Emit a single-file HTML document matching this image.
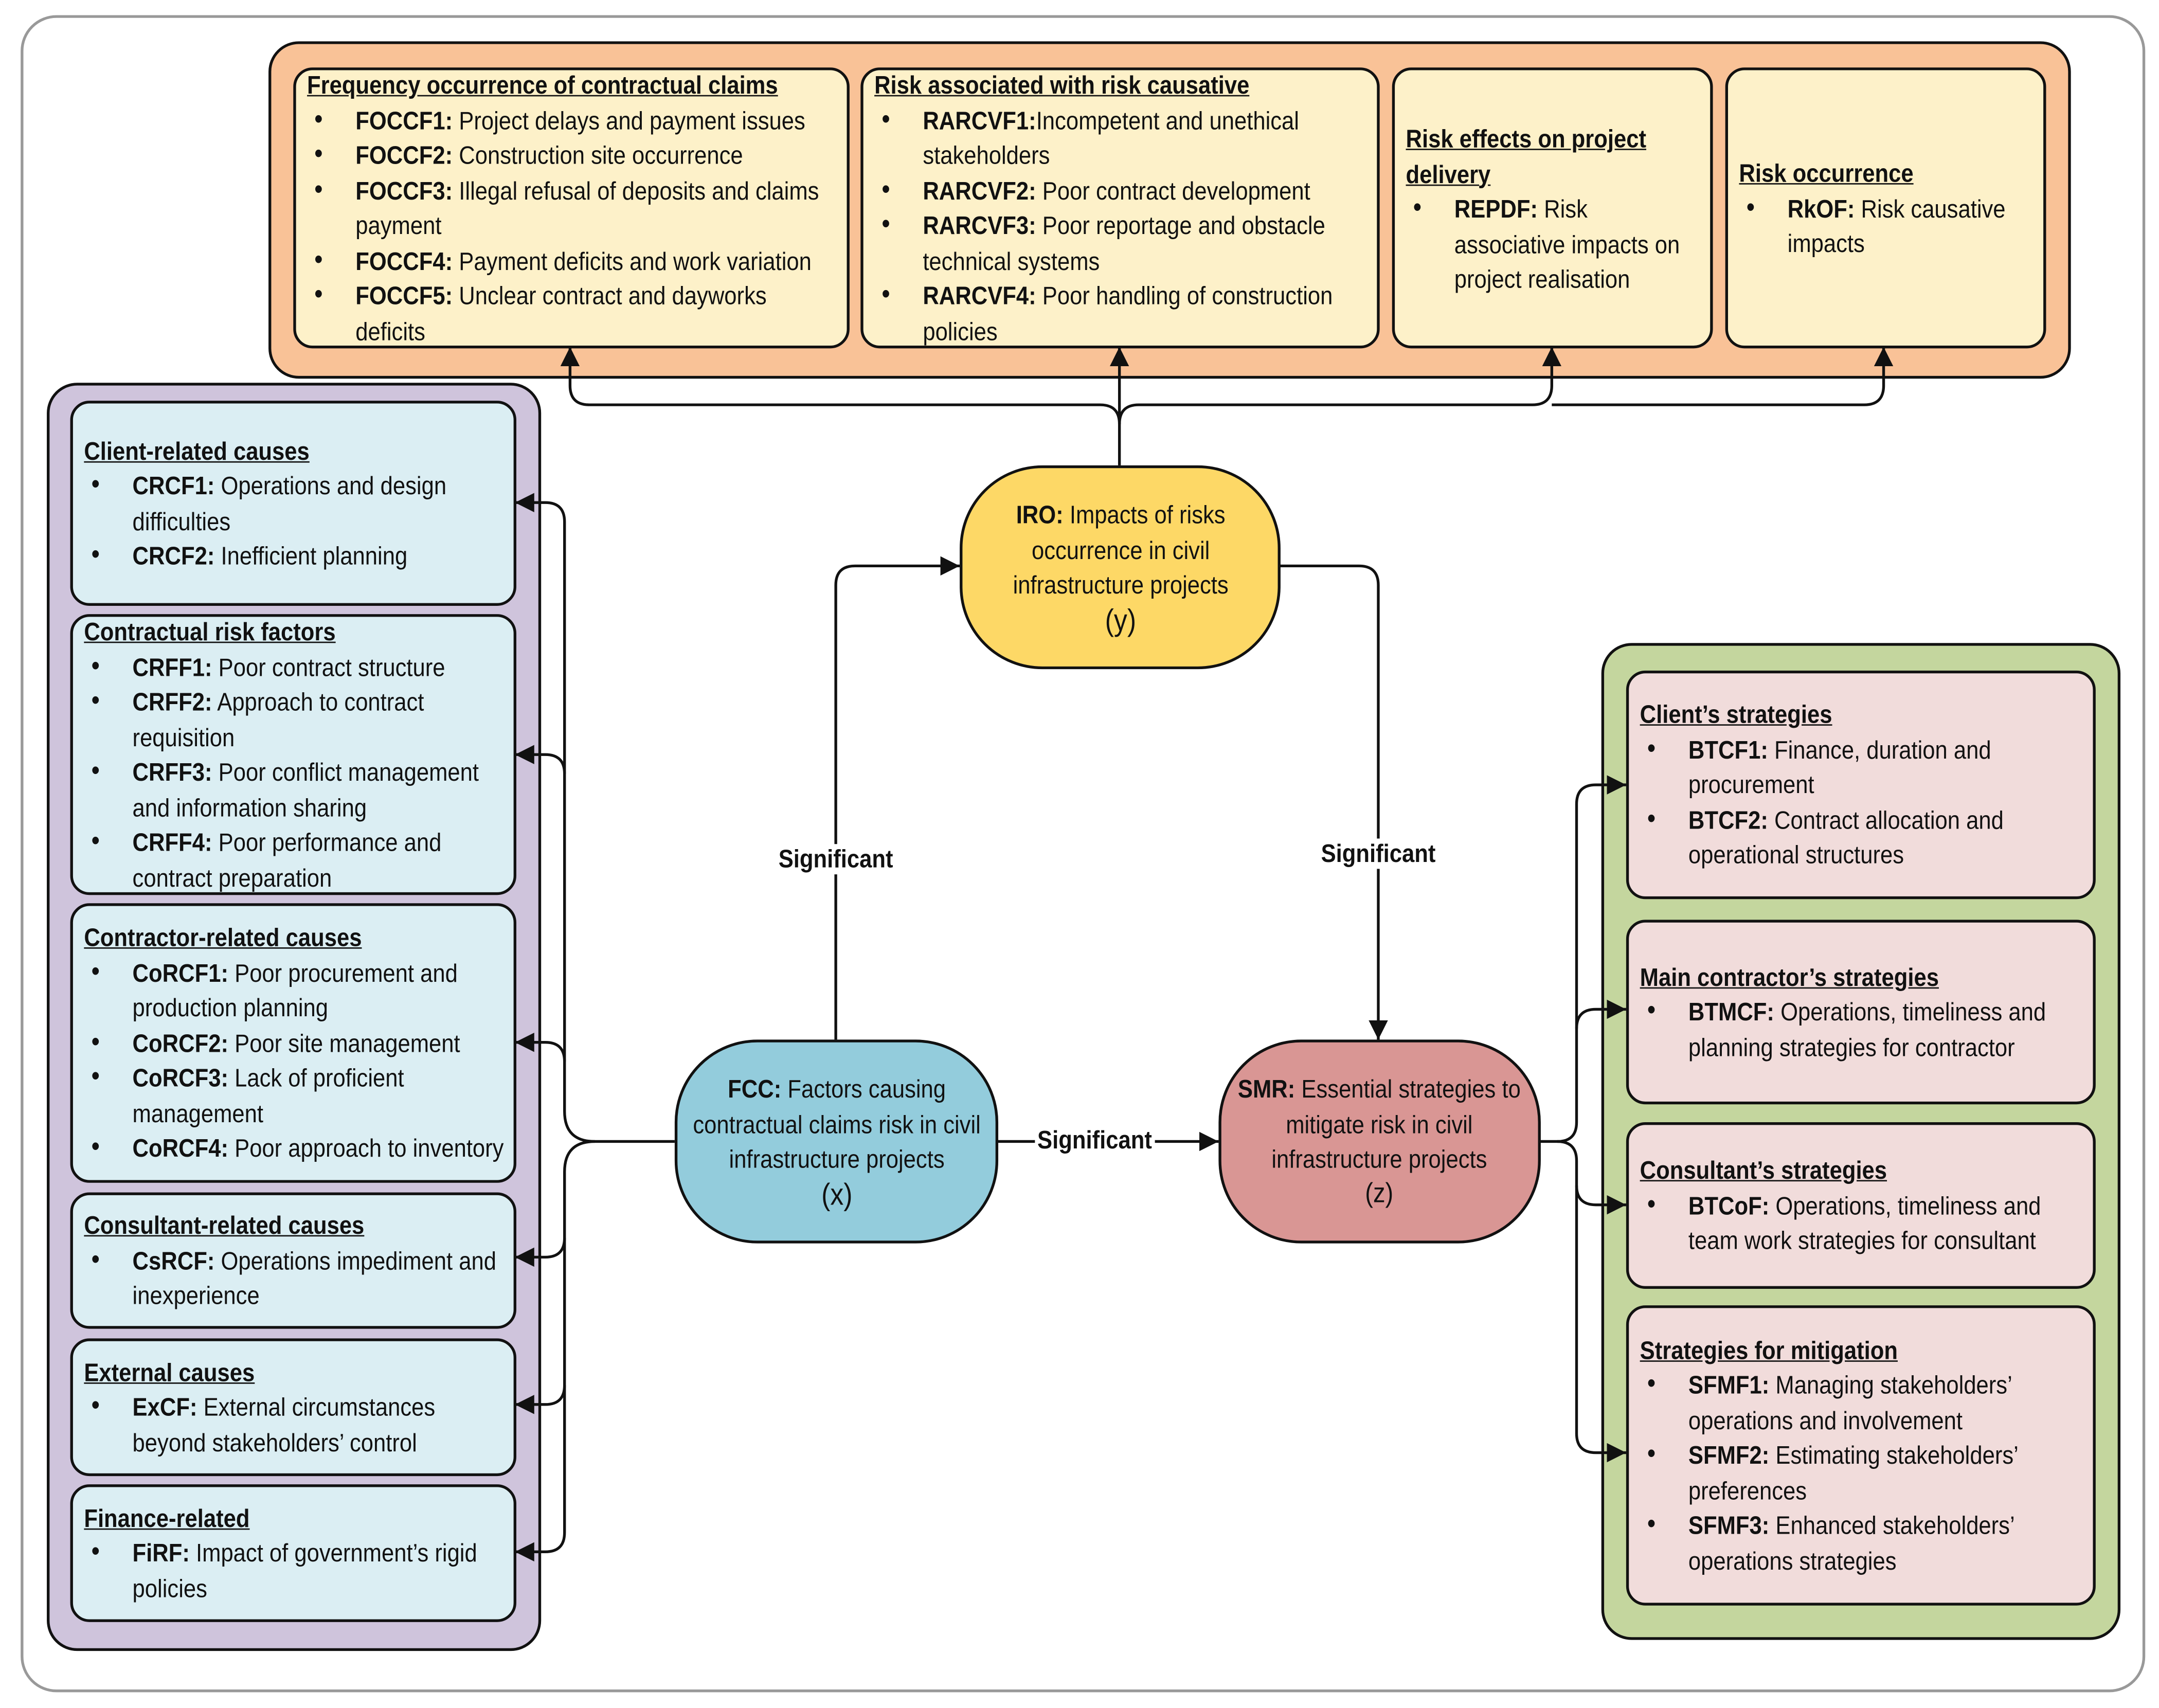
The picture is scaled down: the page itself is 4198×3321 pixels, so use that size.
<!DOCTYPE html>
<html><head><meta charset="utf-8"><style>
html,body{margin:0;padding:0;background:#fff;}
#wrap{width:4198px;height:3321px;overflow:hidden;position:relative;background:#fff;}
#s{position:absolute;left:0;top:0;width:1568px;height:1240px;transform:scale(2.6773);transform-origin:0 0;font-family:"Liberation Sans Narrow","Liberation Sans",sans-serif;font-size:18.5px;color:#111;}
.a{position:absolute;box-sizing:border-box;}
.box{position:absolute;box-sizing:border-box;border:2.2px solid #111;border-radius:14px;display:flex;flex-direction:column;justify-content:center;padding:0 6px 0 8px;line-height:25.5px;white-space:nowrap;}
.box>div{transform:scaleX(.88);transform-origin:0 0;}
.h{font-weight:bold;text-decoration:underline;}
.li{position:relative;padding-left:40px;}
.li:before{content:"•";position:absolute;left:6px;top:0;font-size:20px;}
.node{position:absolute;box-sizing:border-box;border:2.2px solid #111;border-radius:60px;display:flex;flex-direction:column;justify-content:center;align-items:center;text-align:center;line-height:25.5px;white-space:nowrap;}
.node>div{transform:scaleX(.88);}
.lab{position:absolute;font-weight:bold;background:#fff;white-space:nowrap;transform:translate(-50%,-50%) scaleX(.88);line-height:22px;padding:0 2px;}
</style></head><body><div id="wrap"><div id="s">
<div class="a" style="left:15px;top:11px;width:1543px;height:1218px;border:2px solid #999;border-radius:26px;"></div>
<div class="a" style="left:195px;top:30px;width:1309px;height:245px;background:#f9c297;border:2.2px solid #111;border-radius:22px;"></div>
<div class="a" style="left:34px;top:278px;width:359px;height:921px;background:#cfc4dc;border:2.2px solid #111;border-radius:22px;"></div>
<div class="a" style="left:1163px;top:467px;width:377px;height:724px;background:#c4d69e;border:2.2px solid #111;border-radius:22px;"></div>

<svg class="a" style="left:0;top:0" width="1568" height="1240" viewBox="0 0 1568 1240">
<defs><marker id="m2" viewBox="0 0 10 10" refX="10" refY="5" markerWidth="14" markerHeight="14" orient="auto" markerUnits="userSpaceOnUse"><path d="M0,0L10,5L0,10z" fill="#111"/></marker></defs>
<g fill="none" stroke="#111" stroke-width="2">
<path d="M607,755V425q0,-14 14,-14H697" marker-end="url(#m2)"/>
<path d="M929,411H987q14,0 14,14V755" marker-end="url(#m2)"/>
<path d="M724,829H885" marker-end="url(#m2)"/>
<path d="M813,338V308q0,-14 -14,-14H428q-14,0 -14,-14V252" marker-end="url(#m2)"/>
<path d="M813,308V252" marker-end="url(#m2)"/>
<path d="M813,308q0,-14 14,-14H1113q14,0 14,-14V252" marker-end="url(#m2)"/>
<path d="M1127,294H1354q14,0 14,-14V252" marker-end="url(#m2)"/>
<path d="M490,829H432q-22,0 -22,-22V379q0,-14 -14,-14H374" marker-end="url(#m2)"/>
<path d="M432,829q-22,0 -22,22V1113q0,14 -14,14H374" marker-end="url(#m2)"/>
<path d="M410,562q0,-14 -14,-14H374" marker-end="url(#m2)"/>
<path d="M410,771q0,-14 -14,-14H374" marker-end="url(#m2)"/>
<path d="M410,899q0,14 -14,14H374" marker-end="url(#m2)"/>
<path d="M410,1006q0,14 -14,14H374" marker-end="url(#m2)"/>
<path d="M1118,829H1131q14,0 14,-14V584q0,-14 14,-14H1181" marker-end="url(#m2)"/>
<path d="M1131,829q14,0 14,14V1041q0,14 14,14H1181" marker-end="url(#m2)"/>
<path d="M1145,747q0,-14 14,-14H1181" marker-end="url(#m2)"/>
<path d="M1145,861q0,14 14,14H1181" marker-end="url(#m2)"/>
</g></svg>

<div class="box" style="left:213px;top:49px;width:404px;height:204px;background:#fdf1c9;">
<div class="h">Frequency occurrence of contractual claims</div>
<div class="li"><b>FOCCF1:</b> Project delays and payment issues</div>
<div class="li"><b>FOCCF2:</b> Construction site occurrence</div>
<div class="li"><b>FOCCF3:</b> Illegal refusal of deposits and claims<br>payment</div>
<div class="li"><b>FOCCF4:</b> Payment deficits and work variation</div>
<div class="li"><b>FOCCF5:</b> Unclear contract and dayworks<br>deficits</div>
</div>
<div class="box" style="left:625px;top:49px;width:377px;height:204px;background:#fdf1c9;">
<div class="h">Risk associated with risk causative</div>
<div class="li"><b>RARCVF1:</b>Incompetent and unethical<br>stakeholders</div>
<div class="li"><b>RARCVF2:</b> Poor contract development</div>
<div class="li"><b>RARCVF3:</b> Poor reportage and obstacle<br>technical systems</div>
<div class="li"><b>RARCVF4:</b> Poor handling of construction<br>policies</div>
</div>
<div class="box" style="left:1011px;top:49px;width:233px;height:204px;background:#fdf1c9;justify-content:flex-start;padding-top:37px;">
<div class="h">Risk effects on project<br>delivery</div>
<div class="li"><b>REPDF:</b> Risk<br>associative impacts on<br>project realisation</div>
</div>
<div class="box" style="left:1253px;top:49px;width:233px;height:204px;background:#fdf1c9;justify-content:flex-start;padding-top:62px;">
<div class="h">Risk occurrence</div>
<div class="li"><b>RkOF:</b> Risk causative<br>impacts</div>
</div>

<div class="box" style="left:51px;top:291px;width:324px;height:149px;background:#dbeef3;">
<div class="h">Client-related causes</div>
<div class="li"><b>CRCF1:</b> Operations and design<br>difficulties</div>
<div class="li"><b>CRCF2:</b> Inefficient planning</div>
</div>
<div class="box" style="left:51px;top:446px;width:324px;height:204px;background:#dbeef3;">
<div class="h">Contractual risk factors</div>
<div class="li"><b>CRFF1:</b> Poor contract structure</div>
<div class="li"><b>CRFF2:</b> Approach to contract<br>requisition</div>
<div class="li"><b>CRFF3:</b> Poor conflict management<br>and information sharing</div>
<div class="li"><b>CRFF4:</b> Poor performance and<br>contract preparation</div>
</div>
<div class="box" style="left:51px;top:656px;width:324px;height:203px;background:#dbeef3;">
<div class="h">Contractor-related causes</div>
<div class="li"><b>CoRCF1:</b> Poor procurement and<br>production planning</div>
<div class="li"><b>CoRCF2:</b> Poor site management</div>
<div class="li"><b>CoRCF3:</b> Lack of proficient<br>management</div>
<div class="li"><b>CoRCF4:</b> Poor approach to inventory</div>
</div>
<div class="box" style="left:51px;top:866px;width:324px;height:99px;background:#dbeef3;">
<div class="h">Consultant-related causes</div>
<div class="li"><b>CsRCF:</b> Operations impediment and<br>inexperience</div>
</div>
<div class="box" style="left:51px;top:972px;width:324px;height:100px;background:#dbeef3;">
<div class="h">External causes</div>
<div class="li"><b>ExCF:</b> External circumstances<br>beyond stakeholders’ control</div>
</div>
<div class="box" style="left:51px;top:1078px;width:324px;height:100px;background:#dbeef3;">
<div class="h">Finance-related</div>
<div class="li"><b>FiRF:</b> Impact of government’s rigid<br>policies</div>
</div>

<div class="box" style="left:1181px;top:487px;width:341px;height:166px;background:#f1dcdb;">
<div class="h">Client’s strategies</div>
<div class="li"><b>BTCF1:</b> Finance, duration and<br>procurement</div>
<div class="li"><b>BTCF2:</b> Contract allocation and<br>operational structures</div>
</div>
<div class="box" style="left:1181px;top:668px;width:341px;height:134px;background:#f1dcdb;">
<div class="h">Main contractor’s strategies</div>
<div class="li"><b>BTMCF:</b> Operations, timeliness and<br>planning strategies for contractor</div>
</div>
<div class="box" style="left:1181px;top:815px;width:341px;height:121px;background:#f1dcdb;">
<div class="h">Consultant’s strategies</div>
<div class="li"><b>BTCoF:</b> Operations, timeliness and<br>team work strategies for consultant</div>
</div>
<div class="box" style="left:1181px;top:948px;width:341px;height:218px;background:#f1dcdb;">
<div class="h">Strategies for mitigation</div>
<div class="li"><b>SFMF1:</b> Managing stakeholders’<br>operations and involvement</div>
<div class="li"><b>SFMF2:</b> Estimating stakeholders’<br>preferences</div>
<div class="li"><b>SFMF3:</b> Enhanced stakeholders’<br>operations strategies</div>
</div>

<div class="node" style="left:697px;top:338px;width:233px;height:148px;background:#fdd866;">
<div><b>IRO:</b> Impacts of risks<br>occurrence in civil<br>infrastructure projects</div><div style="font-size:22px;">(y)</div>
</div>
<div class="node" style="left:490px;top:755px;width:235px;height:148px;background:#93ccdc;">
<div><b>FCC:</b> Factors causing<br>contractual claims risk in civil<br>infrastructure projects</div><div style="font-size:22px;">(x)</div>
</div>
<div class="node" style="left:885px;top:755px;width:234px;height:148px;background:#d99694;">
<div><b>SMR:</b> Essential strategies to<br>mitigate risk in civil<br>infrastructure projects</div><div style="font-size:20px;">(z)</div>
</div>

<div class="lab" style="left:607px;top:624px;">Significant</div>
<div class="lab" style="left:1001px;top:620px;">Significant</div>
<div class="lab" style="left:795px;top:828px;">Significant</div>
</div></div></body></html>
